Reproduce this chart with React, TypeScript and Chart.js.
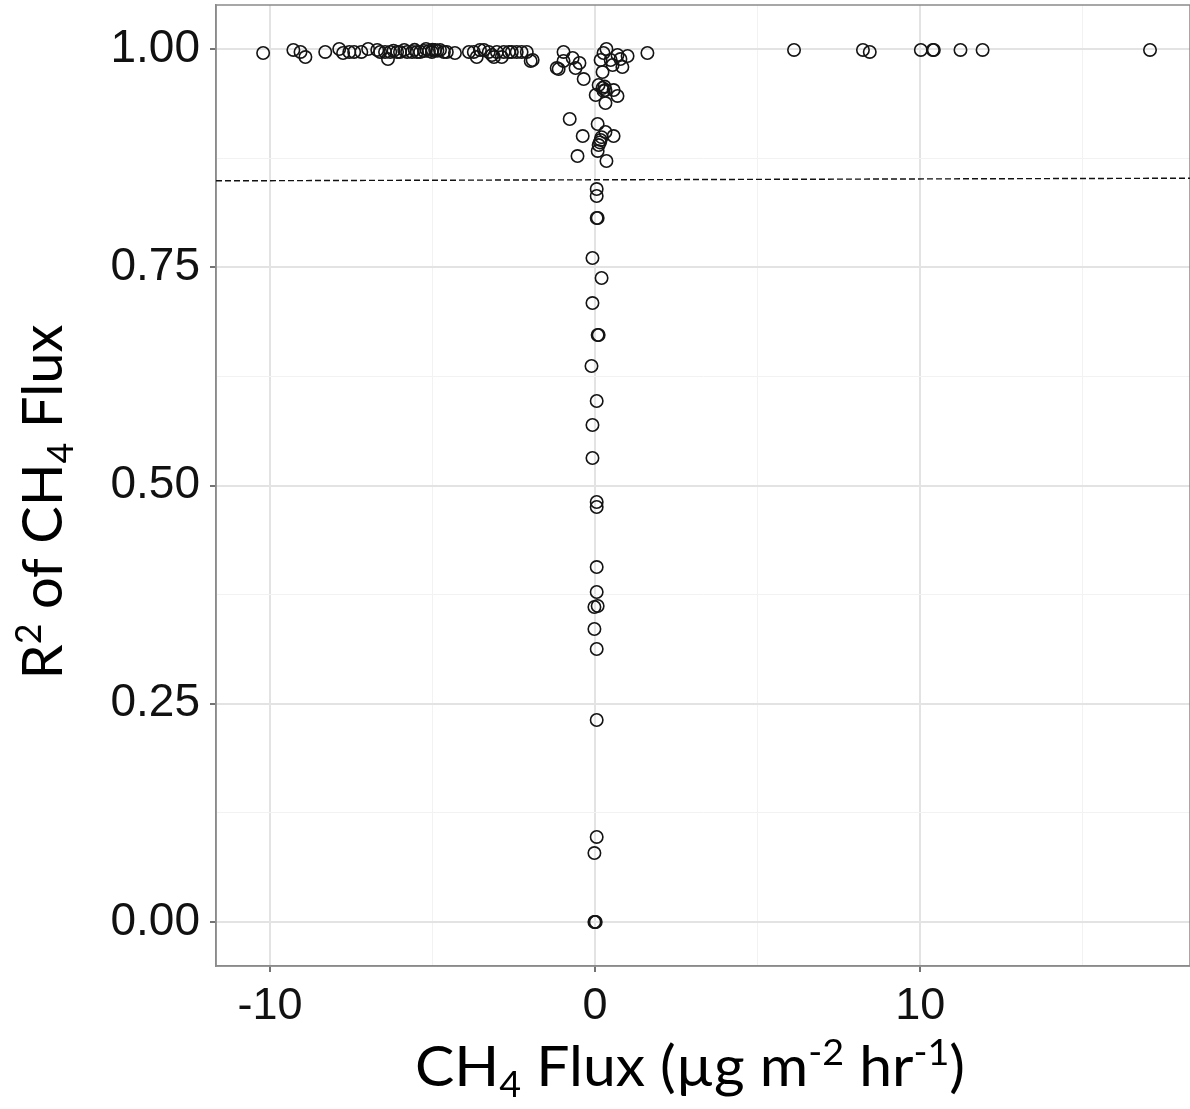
import React, { useEffect, useRef } from "react";
import { Chart, registerables } from "chart.js";

Chart.register(...registerables);

// ---- Data (CH4 flux in µg m-2 hr-1, R² of flux fit) ----
const fluxNegative = [
  -10.21, -9.28, -9.06, -8.91, -8.3, -7.87, -7.75, -7.56, -7.41, -7.19, -6.98, -6.7, -6.61, -6.46, -6.37,
  -6.3, -6.2, -6.09, -6.0, -5.87, -5.78, -5.63, -5.55, -5.48, -5.38, -5.26, -5.2, -5.11, -5.02, -5.0,
  -4.92, -4.85, -4.77, -4.65, -4.56, -4.31, -3.88, -3.73, -3.64, -3.54, -3.42, -3.27, -3.17, -3.11,
  -3.02, -2.87, -2.81, -2.65, -2.56, -2.41, -2.26, -2.1, -1.98,
];
const r2Negative = [
  0.9954, 0.9989, 0.9966, 0.9908, 0.9966, 1.0, 0.9954, 0.9966, 0.9966, 0.9966, 1.0, 0.9989, 0.9966, 0.9966, 0.9885,
  0.9966, 0.998, 0.9966, 0.9966, 0.9989, 0.9966, 0.9966, 0.999, 0.9966, 0.9966, 0.9977, 1.0, 0.9977, 0.9966, 0.999,
  0.9989, 0.998, 0.9989, 0.9966, 0.9966, 0.9954, 0.9966, 0.9966, 0.9908, 0.9989, 0.9989, 0.9966, 0.9931, 0.9908,
  0.9966, 0.9908, 0.9966, 0.9966, 0.9966, 0.9966, 0.9966, 0.9966, 0.9863,
];

const fluxNearZero = [
  -1.92, -1.18, -0.97, -0.97, -0.69, -0.48, -1.12, -0.6, -0.35, 0.35, 0.26, 0.17, 0.48, 0.69, 0.78,
  1.0, 0.54, 0.84, 0.23, 1.61, 0.11, 0.23, 0.26, 0.29, 0.32, 0.57, 0.02, 0.69, 0.32, -0.78, 0.08,
  0.32, -0.38, 0.57, 0.17, 0.15, 0.2, 0.11, 0.08, -0.54, 0.35,
];
const r2NearZero = [
  0.9874, 0.9782, 0.9966, 0.9863, 0.9897, 0.984, 0.9771, 0.9782, 0.9656, 1.0, 0.9954, 0.9874, 0.9874, 0.9931, 0.9885,
  0.992, 0.9817, 0.9794, 0.9736, 0.9954, 0.9588, 0.9553, 0.952, 0.957, 0.953, 0.953, 0.9473, 0.9462, 0.9381, 0.9198, 0.9141,
  0.9049, 0.9003, 0.9003, 0.8958, 0.893, 0.899, 0.89, 0.8832, 0.8774, 0.8717,
];

const fluxLowFit = [
  0.05, 0.05, 0.05, 0.08, -0.08, 0.2, -0.08, 0.08, 0.11, -0.11, 0.05, -0.08, -0.08, 0.05, 0.05,
  0.05, 0.05, -0.02, 0.08, -0.02, 0.05, 0.05, 0.05, -0.02, -0.02, 0.0, 0.02,
];
const r2LowFit = [
  0.8396, 0.8316, 0.8064, 0.8064, 0.7606, 0.7377, 0.709, 0.6724, 0.6724, 0.6369, 0.5968, 0.5693, 0.5315, 0.4811, 0.4754,
  0.4066, 0.378, 0.3608, 0.362, 0.3356, 0.3127, 0.2314, 0.0974, 0.079, 0.0, 0.0, 0.0,
];

const fluxPositive = [6.12, 8.24, 8.45, 10.02, 10.39, 10.42, 11.24, 11.92, 17.07];
const r2Positive = [0.9989, 0.9989, 0.9966, 0.9989, 0.9989, 0.9989, 0.9989, 0.9989, 0.9989];

// threshold line (R² cut-off)
const thresholdX = [-11.66, 18.3];
const thresholdY = [0.849, 0.852];

const xRange = [-11.66, 18.3];
const yRange = [-0.0504, 1.0504];
const xTickLabels = [-10, 0, 10];

type Seg = { t: string; m?: "sup" | "sub" };
const xTitleSegs: Seg[] = [
  { t: "CH" }, { t: "4", m: "sub" }, { t: " Flux (µg m" }, { t: "-2", m: "sup" }, { t: " hr" }, { t: "-1", m: "sup" }, { t: ")" },
];
const yTitleSegs: Seg[] = [{ t: "R" }, { t: "2", m: "sup" }, { t: " of CH" }, { t: "4", m: "sub" }, { t: " Flux" }];

const TITLE_FONT = "Lato, 'Open Sans', 'Liberation Sans', sans-serif";

function drawRich(ctx: CanvasRenderingContext2D, segs: Seg[], size: number, targetWidth: number) {
  const small = size * 0.64;
  const widths = segs.map((s) => {
    ctx.font = `${s.m ? small : size}px ${TITLE_FONT}`;
    return ctx.measureText(s.t).width;
  });
  const total = widths.reduce((a, b) => a + b, 0);
  const sx = targetWidth / total;
  ctx.save();
  ctx.scale(sx, 1);
  let x = -total / 2;
  ctx.textBaseline = "alphabetic";
  ctx.textAlign = "left";
  ctx.fillStyle = "#000";
  segs.forEach((s, i) => {
    ctx.font = `${s.m ? small : size}px ${TITLE_FONT}`;
    const yOff = s.m === "sup" ? -size * 0.36 : s.m === "sub" ? size * 0.2 : 0;
    ctx.fillText(s.t, x, yOff);
    x += widths[i];
  });
  ctx.restore();
}

const titlesPlugin = {
  id: "richTitles",
  beforeDatasetsDraw(chart: any) {
    const { ctx, chartArea } = chart;
    ctx.save();
    ctx.strokeStyle = "#8a8a8a";
    ctx.lineWidth = 1.5;
    ctx.strokeRect(chartArea.left, chartArea.top, chartArea.right - chartArea.left, chartArea.bottom - chartArea.top);
    ctx.restore();
  },
  afterDraw(chart: any) {
    const { ctx } = chart;
    ctx.save();
    ctx.translate(690, 1086);
    drawRich(ctx, xTitleSegs, 57, 550);
    ctx.restore();
    ctx.save();
    ctx.translate(62, 502);
    ctx.rotate(-Math.PI / 2);
    drawRich(ctx, yTitleSegs, 57, 355);
    ctx.restore();
  },
};

const isMajorX = (v: number) => xTickLabels.includes(v);
const isMajorY = (v: number) => Math.abs(v * 4 - Math.round(v * 4)) < 1e-6;

export default function App() {
  const ref = useRef<HTMLCanvasElement | null>(null);

  useEffect(() => {
    if (!ref.current) return;
    const toPts = (xs: number[], ys: number[]) => xs.map((x, i) => ({ x, y: ys[i] }));
    const pointStyle = {
      type: "scatter" as const,
      pointRadius: 6.2,
      pointBorderWidth: 1.6,
      pointBackgroundColor: "rgba(0,0,0,0)",
      pointBorderColor: "#141414",
      showLine: false,
    };
    const chart = new Chart(ref.current, {
      type: "scatter",
      data: {
        datasets: [
          {
            type: "line",
            data: toPts(thresholdX, thresholdY),
            borderColor: "#111",
            borderWidth: 1.4,
            borderDash: [6, 3],
            pointRadius: 0,
            fill: false,
          } as any,
          { ...pointStyle, data: toPts(fluxNegative, r2Negative) },
          { ...pointStyle, data: toPts(fluxNearZero, r2NearZero) },
          { ...pointStyle, data: toPts(fluxLowFit, r2LowFit) },
          { ...pointStyle, data: toPts(fluxPositive, r2Positive) },
        ],
      },
      options: {
        animation: false,
        responsive: false,
        devicePixelRatio: 1,
        layout: { autoPadding: false, padding: { top: 5, right: 0, left: 0, bottom: 0 } },
        plugins: { legend: { display: false }, tooltip: { enabled: false } },
        scales: {
          x: {
            type: "linear",
            min: xRange[0],
            max: xRange[1],
            afterFit: (s: any) => {
              s.height = 143;
              s.paddingLeft = 0;
              s.paddingRight = 0;
            },
            ticks: {
              stepSize: 5,
              includeBounds: false,
              autoSkip: false,
              maxRotation: 0,
              padding: 8,
              color: "#111",
              font: { family: "'Liberation Sans Narrow', 'Liberation Sans', sans-serif", size: 45 },
              callback: (v: any) => (isMajorX(Number(v)) ? String(v) : ""),
            },
            grid: {
              color: (c: any) => (isMajorX(c.tick?.value) ? "#e3e3e3" : "#f2f2f2"),
              lineWidth: (c: any) => (isMajorX(c.tick?.value) ? 2 : 1),
              tickLength: 6,
              tickColor: (c: any) => (isMajorX(c.tick?.value) ? "#444" : "rgba(0,0,0,0)"),
              tickWidth: 1.5,
            },
            border: { display: true, color: "#8a8a8a", width: 1.5 },
          },
          y: {
            type: "linear",
            min: yRange[0],
            max: yRange[1],
            afterFit: (s: any) => {
              s.width = 216;
              s.paddingTop = 0;
              s.paddingBottom = 0;
            },
            ticks: {
              stepSize: 0.125,
              includeBounds: false,
              autoSkip: false,
              padding: 10,
              color: "#111",
              font: { family: "'Liberation Sans', Arial, sans-serif", size: 46 },
              callback: (v: any) => (isMajorY(Number(v)) ? Number(v).toFixed(2) : ""),
            },
            grid: {
              color: (c: any) => (isMajorY(c.tick?.value) ? "#e3e3e3" : "#f2f2f2"),
              lineWidth: (c: any) => (isMajorY(c.tick?.value) ? 2 : 1),
              tickLength: 6,
              tickColor: (c: any) => (isMajorY(c.tick?.value) ? "#444" : "rgba(0,0,0,0)"),
              tickWidth: 1.5,
            },
            border: { display: true, color: "#8a8a8a", width: 1.5 },
          },
        },
      },
      plugins: [titlesPlugin],
    });
    return () => chart.destroy();
  }, []);

  return (
    <div style={{ position: "absolute", left: 0, top: 0, width: 1190, height: 1109, background: "#fff" }}>
      <canvas ref={ref} width={1190} height={1109} style={{ display: "block" }} />
    </div>
  );
}
